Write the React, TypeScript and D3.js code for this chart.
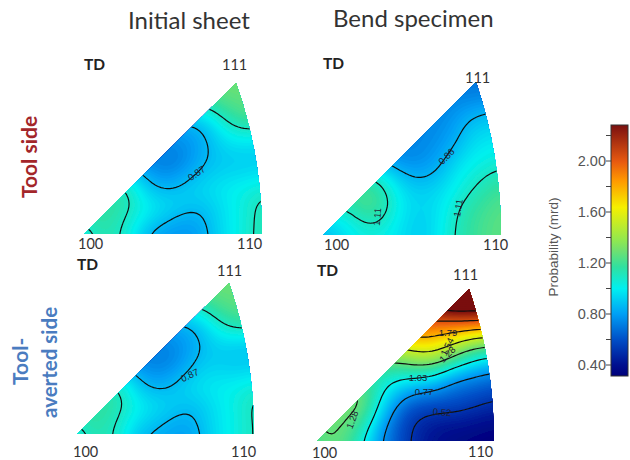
import React from 'react';
import * as d3 from 'd3';

// probability values, top row first, columns 100 -> 110
const initialTool = [
  [1.3, 1.3, 1.3, 1.3, 1.3, 1.3, 1.3, 1.3, 1.3, 1.3, 1.3, 1.3, 1.3],
  [1.2, 1.2, 1.2, 1.2, 1.2, 1.2, 1.2, 1.2, 1.2, 1.25, 1.28, 1.28, 1.28],
  [1.0, 1.0, 1.0, 1.0, 1.0, 1.0, 1.0, 1.0, 1.0, 1.1, 1.2, 1.25, 1.25],
  [0.8, 0.8, 0.8, 0.8, 0.8, 0.8, 0.8, 0.8, 0.85, 0.98, 1.09, 1.11, 1.11],
  [0.76, 0.76, 0.76, 0.76, 0.76, 0.76, 0.76, 0.78, 0.83, 0.92, 0.98, 0.97, 0.95],
  [0.7, 0.7, 0.7, 0.7, 0.7, 0.72, 0.68, 0.76, 0.85, 0.9, 0.91, 0.91, 0.92],
  [1.0, 1.0, 1.0, 1.0, 0.86, 0.76, 0.77, 0.84, 0.89, 0.93, 0.94, 0.95, 0.97],
  [1.15, 1.15, 1.15, 1.12, 0.94, 0.86, 0.865, 0.92, 0.96, 0.99, 1.02, 1.04, 1.07],
  [1.2, 1.2, 1.2, 1.13, 1.04, 0.98, 0.96, 0.92, 0.89, 0.95, 1.0, 1.07, 1.14],
  [1.15, 1.18, 1.15, 1.08, 1.0, 0.93, 0.86, 0.82, 0.84, 0.95, 1.0, 1.07, 1.14],
  [1.0, 1.15, 1.13, 1.07, 0.875, 0.8, 0.78, 0.78, 0.82, 0.93, 1.0, 1.08, 1.14],
];

const bendTool = [
  [0.7, 0.7, 0.7, 0.7, 0.7, 0.7, 0.7, 0.7, 0.7, 0.7, 0.7, 0.7, 0.7],
  [0.72, 0.72, 0.72, 0.72, 0.72, 0.72, 0.72, 0.72, 0.72, 0.74, 0.72, 0.75, 0.75],
  [0.74, 0.74, 0.74, 0.74, 0.74, 0.74, 0.74, 0.74, 0.74, 0.78, 0.85, 0.86, 0.9],
  [0.74, 0.74, 0.74, 0.74, 0.74, 0.74, 0.74, 0.74, 0.76, 0.82, 0.91, 0.93, 0.95],
  [0.74, 0.74, 0.74, 0.74, 0.74, 0.74, 0.74, 0.75, 0.79, 0.85, 0.96, 0.99, 1.0],
  [0.8, 0.8, 0.8, 0.8, 0.8, 0.74, 0.74, 0.77, 0.83, 0.93, 1.0, 1.03, 1.05],
  [1.1, 1.1, 1.1, 1.1, 1.03, 0.9, 0.83, 0.83, 0.89, 1.0, 1.05, 1.09, 1.13],
  [1.2, 1.2, 1.2, 1.22, 1.14, 1.0, 0.92, 0.92, 0.96, 1.02, 1.09, 1.16, 1.2],
  [1.15, 1.15, 1.16, 1.27, 1.18, 1.03, 0.95, 0.95, 0.98, 1.09, 1.15, 1.2, 1.25],
  [0.98, 0.98, 1.06, 1.14, 1.11, 1.0, 0.93, 0.92, 1.0, 1.11, 1.18, 1.23, 1.27],
  [0.85, 0.93, 1.0, 1.04, 1.03, 0.98, 0.93, 0.92, 1.02, 1.12, 1.18, 1.24, 1.27],
];

const initialAverted = [
  [1.3, 1.3, 1.3, 1.3, 1.3, 1.3, 1.3, 1.3, 1.3, 1.3, 1.3, 1.3, 1.3],
  [1.2, 1.2, 1.2, 1.2, 1.2, 1.2, 1.2, 1.2, 1.2, 1.25, 1.28, 1.28, 1.28],
  [1.0, 1.0, 1.0, 1.0, 1.0, 1.0, 1.0, 1.0, 1.0, 1.1, 1.2, 1.25, 1.25],
  [0.8, 0.8, 0.8, 0.8, 0.8, 0.8, 0.8, 0.8, 0.85, 0.97, 1.09, 1.11, 1.11],
  [0.76, 0.76, 0.76, 0.76, 0.76, 0.76, 0.74, 0.78, 0.83, 0.91, 0.95, 0.92, 0.92],
  [0.7, 0.7, 0.7, 0.7, 0.7, 0.72, 0.7, 0.76, 0.86, 0.92, 0.9, 0.88, 0.9],
  [1.0, 1.0, 1.0, 1.0, 0.86, 0.76, 0.78, 0.85, 0.92, 0.96, 0.95, 0.95, 0.97],
  [1.15, 1.15, 1.15, 1.12, 0.94, 0.86, 0.865, 0.92, 0.98, 1.0, 1.02, 1.04, 1.08],
  [1.2, 1.2, 1.2, 1.13, 1.03, 0.98, 0.95, 0.91, 0.88, 0.95, 1.0, 1.06, 1.13],
  [1.15, 1.18, 1.15, 1.08, 1.0, 0.93, 0.88, 0.84, 0.85, 0.95, 1.0, 1.05, 1.12],
  [1.0, 1.15, 1.13, 1.07, 0.88, 0.85, 0.82, 0.8, 0.82, 0.93, 1.0, 1.05, 1.12],
];

const bendAverted = [
  [2.8, 2.8, 2.8, 2.8, 2.8, 2.8, 2.8, 2.8, 2.8, 2.8, 2.8, 2.8, 2.8],
  [2.4, 2.4, 2.4, 2.4, 2.4, 2.4, 2.4, 2.4, 2.4, 2.5, 2.48, 2.45, 2.45],
  [2.05, 2.05, 2.05, 2.05, 2.05, 2.05, 2.05, 2.05, 2.03, 2.08, 2.1, 2.12, 2.12],
  [1.85, 1.85, 1.85, 1.85, 1.85, 1.85, 1.85, 1.85, 1.83, 1.75, 1.69, 1.6, 1.58],
  [1.5, 1.5, 1.5, 1.5, 1.5, 1.5, 1.5, 1.62, 1.6, 1.47, 1.29, 1.2, 1.18],
  [1.2, 1.2, 1.2, 1.2, 1.2, 1.2, 1.26, 1.3, 1.28, 1.12, 1.01, 0.9, 0.85],
  [1.2, 1.2, 1.2, 1.2, 1.15, 1.05, 1.0, 0.97, 0.92, 0.77, 0.72, 0.7, 0.66],
  [1.35, 1.35, 1.35, 1.35, 1.1, 0.93, 0.77, 0.72, 0.69, 0.66, 0.62, 0.59, 0.55],
  [1.3, 1.3, 1.3, 1.3, 1.05, 0.8, 0.6, 0.55, 0.54, 0.54, 0.525, 0.48, 0.45],
  [1.3, 1.3, 1.3, 1.18, 0.91, 0.69, 0.56, 0.46, 0.42, 0.4, 0.4, 0.38, 0.36],
  [1.2, 1.31, 1.22, 1.07, 0.82, 0.68, 0.55, 0.45, 0.4, 0.37, 0.35, 0.33, 0.32],
];

const initialLevels = [0.87, 1.1];
const bendToolLevels = [0.86, 1.1];
const bendAvertedLevels = [0.52, 0.77, 1.03, 1.28, 1.54, 1.79, 2.05, 2.3];

const colorValues = [0.31, 0.4, 0.6, 0.8, 1.0, 1.17, 1.3, 1.38, 1.64, 1.85, 2.0, 2.29];
const colorStops = ['#00007a', '#001090', '#0050c8', '#00a0f5', '#00f0f0', '#30e0a0', '#70e070', '#90e850', '#f5f000', '#ff9900', '#e85a10', '#7a1010'];
const majorTicks = [0.4, 0.8, 1.2, 1.6, 2.0];
const minorTicks = [0.6, 1.0, 1.4, 1.8, 2.2];

const color = d3.scaleLinear<string>().domain(colorValues).range(colorStops).clamp(true);
const fillLevels = d3.range(0.3, 2.9, 0.015);
const sans = 'Lato, sans-serif';
const plain = '"Liberation Sans", Arial, sans-serif';
const zoom = 5; // each reading becomes 5x5 cells, then blurred, so the contours come out round

function Triangle({ id, grid, levels, left, right, tip, top, base }: any) {
  const rows = grid.length * zoom;
  const cols = grid[0].length * zoom;
  const values = new Float64Array(rows * cols);
  for (let j = 0; j < rows; j++) {
    for (let i = 0; i < cols; i++) {
      values[j * cols + i] = grid[Math.floor(j / zoom)][Math.floor(i / zoom)];
    }
  }
  d3.blur2({ data: values, width: cols, height: rows }, zoom * 0.55);

  const half = zoom / 2;
  const sx = d3.scaleLinear().domain([half, cols - half]).range([left, right]);
  const sy = d3.scaleLinear().domain([half, rows - half]).range([top, base]);
  const path = d3.geoPath(d3.geoTransform({
    point(x, y) { this.stream.point(sx(x), sy(y)); },
  }));
  const contours = d3.contours().size([cols, rows]);

  // arc of the triangle: circle centred on the base line
  const dx = right - tip;
  const dy = base - top;
  const r = (dx * dx + dy * dy) / (2 * dx);
  const outline = `M${left},${base}L${tip},${top}A${r},${r} 0 0 1 ${right},${base}Z`;

  return (
    <g filter="url(#soft)">
      <clipPath id={id}><path d={outline} /></clipPath>
      <g clipPath={`url(#${id})`}>
        <path d={outline} fill={color(d3.min(values) as number)} />
        {contours.thresholds(fillLevels)(values as any).map(c => (
          <path key={c.value} d={path(c) as string} fill={color(c.value)} />
        ))}
        {contours.thresholds(levels)(values as any).map(c => (
          <path key={c.value} d={path(c) as string} fill="none" stroke="#111" strokeWidth={1.2} />
        ))}
      </g>
    </g>
  );
}

function Label({ x, y, r = 0, children }: any) {
  return (
    <text transform={`translate(${x},${y}) rotate(${r})`} textAnchor="middle" dominantBaseline="middle"
      fontFamily={plain} fontSize={9.5} fill="#223">{children}</text>
  );
}

function Corner({ x, y, children }: any) {
  return <text x={x} y={y} fontFamily={sans} fontSize={14.5} fill="#333">{children}</text>;
}

function TD({ x, y }: any) {
  return <text x={x} y={y} fontFamily={sans} fontSize={15.5} fontWeight={700} fill="#222">TD</text>;
}

export default function App() {
  const barY = d3.scaleLinear().domain([0.4, 2.0]).range([365, 161]);
  return (
    <svg width={630} height={460} style={{ position: 'absolute', left: 0, top: 0, background: '#fff' }}>
      <defs>
        <filter id="soft" x="-5%" y="-5%" width="110%" height="110%">
          <feGaussianBlur stdDeviation={0.5} />
        </filter>
        <linearGradient id="bar" x1="0" y1="1" x2="0" y2="0">
          {colorValues.map((v, i) => (
            <stop key={v} offset={(v - 0.31) / (2.29 - 0.31)} stopColor={colorStops[i]} />
          ))}
        </linearGradient>
      </defs>

      <text x={128} y={29} fontFamily={sans} fontSize={24} fill="#333">Initial sheet</text>
      <text x={333} y={27} fontFamily={sans} fontSize={24} fill="#333">Bend specimen</text>

      <text transform="translate(37,157) rotate(-90)" textAnchor="middle" fontFamily={sans} fontSize={21} fontWeight={700} fill="#a3262a">Tool side</text>
      <text transform="translate(28,385) rotate(-90)" fontFamily={sans} fontSize={21} fontWeight={700} fill="#4a7cc0">Tool-</text>
      <text transform="translate(57,418) rotate(-90)" fontFamily={sans} fontSize={20.5} fontWeight={700} fill="#4a7cc0">averted side</text>

      <Triangle id="a" grid={initialTool} levels={initialLevels} left={84} right={262} tip={236} top={83} base={234} />
      <Triangle id="b" grid={bendTool} levels={bendToolLevels} left={323} right={501} tip={476} top={82} base={235} />
      <Triangle id="c" grid={initialAverted} levels={initialLevels} left={77} right={254} tip={229} top={283} base={434} />
      <Triangle id="d" grid={bendAverted} levels={bendAvertedLevels} left={317} right={494} tip={469} top={289} base={441} />

      <Label x={197} y={174} r={-35}>0.87</Label>
      <Label x={447} y={157} r={-45}>0.86</Label>
      <Label x={378} y={217} r={-85}>1.11</Label>
      <Label x={459} y={208} r={-80}>1.11</Label>
      <Label x={190} y={376} r={-25}>0.87</Label>
      <Label x={448} y={333}>1.79</Label>
      <Label x={448} y={347} r={-65}>1.54</Label>
      <Label x={448} y={355} r={-45}>1.28</Label>
      <Label x={418} y={378}>1.03</Label>
      <Label x={424} y={392}>0.77</Label>
      <Label x={442} y={413} r={5}>0.52</Label>
      <Label x={353} y={420} r={-70}>1.28</Label>

      <TD x={84} y={70} /><TD x={323} y={69} /><TD x={77} y={270} /><TD x={317} y={276} />
      <Corner x={222} y={70}>111</Corner>
      <Corner x={465} y={83}>111</Corner>
      <Corner x={217} y={276}>111</Corner>
      <Corner x={453} y={280}>111</Corner>
      <Corner x={78} y={249}>100</Corner>
      <Corner x={324} y={250}>100</Corner>
      <Corner x={73} y={457}>100</Corner>
      <Corner x={312} y={458}>100</Corner>
      <Corner x={237} y={249}>110</Corner>
      <Corner x={483} y={250}>110</Corner>
      <Corner x={231} y={457}>110</Corner>
      <Corner x={468} y={457}>110</Corner>

      <rect x={611} y={125} width={17} height={251} fill="url(#bar)" stroke="#333" strokeWidth={1} />
      {majorTicks.concat(minorTicks).map(t => (
        <line key={t} x1={606} x2={611} y1={barY(t)} y2={barY(t)} stroke="#444" />
      ))}
      {majorTicks.map(t => (
        <text key={t} x={606} y={barY(t) + 5} textAnchor="end" fontFamily={plain} fontSize={14.5} fill="#555">{t.toFixed(2)}</text>
      ))}
      <text transform="translate(558,247) rotate(-90)" textAnchor="middle" fontFamily={plain} fontSize={13.5} fill="#555">Probability (mrd)</text>
    </svg>
  );
}
